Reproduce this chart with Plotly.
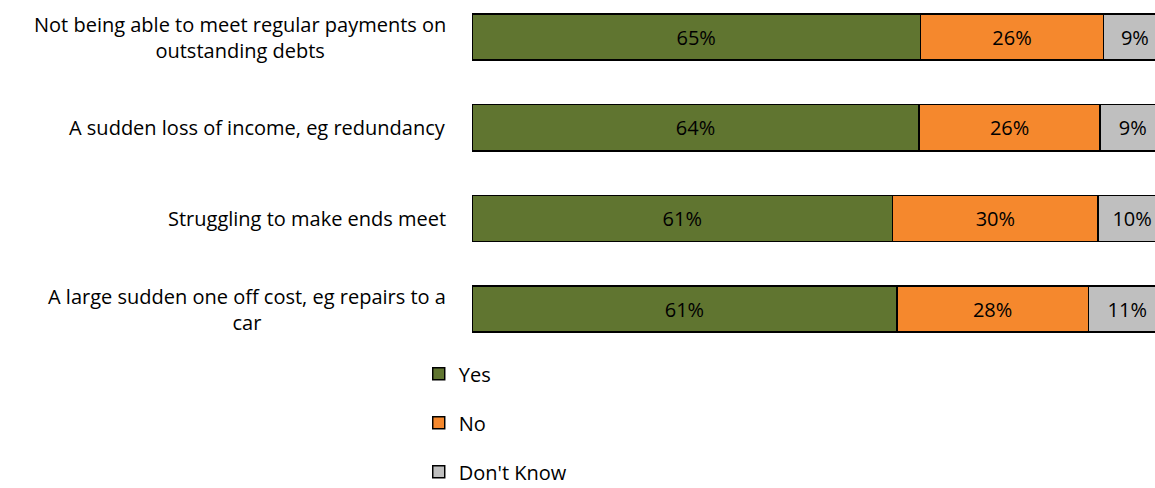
import plotly.graph_objects as go

categories = [
    "Not being able to meet regular payments on<br>outstanding debts",
    "A sudden loss of income, eg redundancy",
    "Struggling to make ends meet",
    "A large sudden one off cost, eg repairs to a<br>car",
]
yes_vals = [64.6, 64.4, 60.6, 61.2]
no_vals = [26.4, 26.1, 29.6, 27.6]
dk_vals = [9.0, 9.4, 9.8, 11.2]
series_names = ["Yes", "No", "Don't Know"]
colors = ["#607530", "#F5882D", "#BFBFBF"]

FONT = "Open Sans"
fig = go.Figure()
for name, vals, col in zip(series_names, [yes_vals, no_vals, dk_vals], colors):
    fig.add_trace(go.Bar(
        y=list(range(len(categories))), x=vals, name=name, orientation="h",
        marker=dict(color=col, line=dict(color="#000000", width=1.5)),
        texttemplate="%{x:.0f}%", textposition="inside", insidetextanchor="middle",
        textfont=dict(family=FONT, size=20, color="#000000"),
        constraintext="none", width=0.51, legendgroup=name,
    ))

for i, cat in enumerate(categories):
    fig.add_annotation(x=0, xref="paper", y=i, yref="y", text=cat, showarrow=False,
                       xanchor="right", yanchor="middle", align="center", xshift=-24,
                       font=dict(family=FONT, size=20, color="#000000"))

fig.update_layout(
    width=1155, height=488, barmode="stack",
    margin=dict(l=472, r=0, t=0, b=138, autoexpand=False),
    plot_bgcolor="white", paper_bgcolor="white",
    xaxis=dict(range=[0, 98.4], visible=False),
    yaxis=dict(range=[3.451, -0.408], visible=False),
    legend=dict(x=-0.078, xanchor="left", y=-0.012, yanchor="top", traceorder="grouped",
                tracegroupgap=20, font=dict(family=FONT, size=20, color="#000000"),
                itemwidth=30),
    showlegend=True,
    font=dict(family=FONT),
)
fig.write_html("out.html")
